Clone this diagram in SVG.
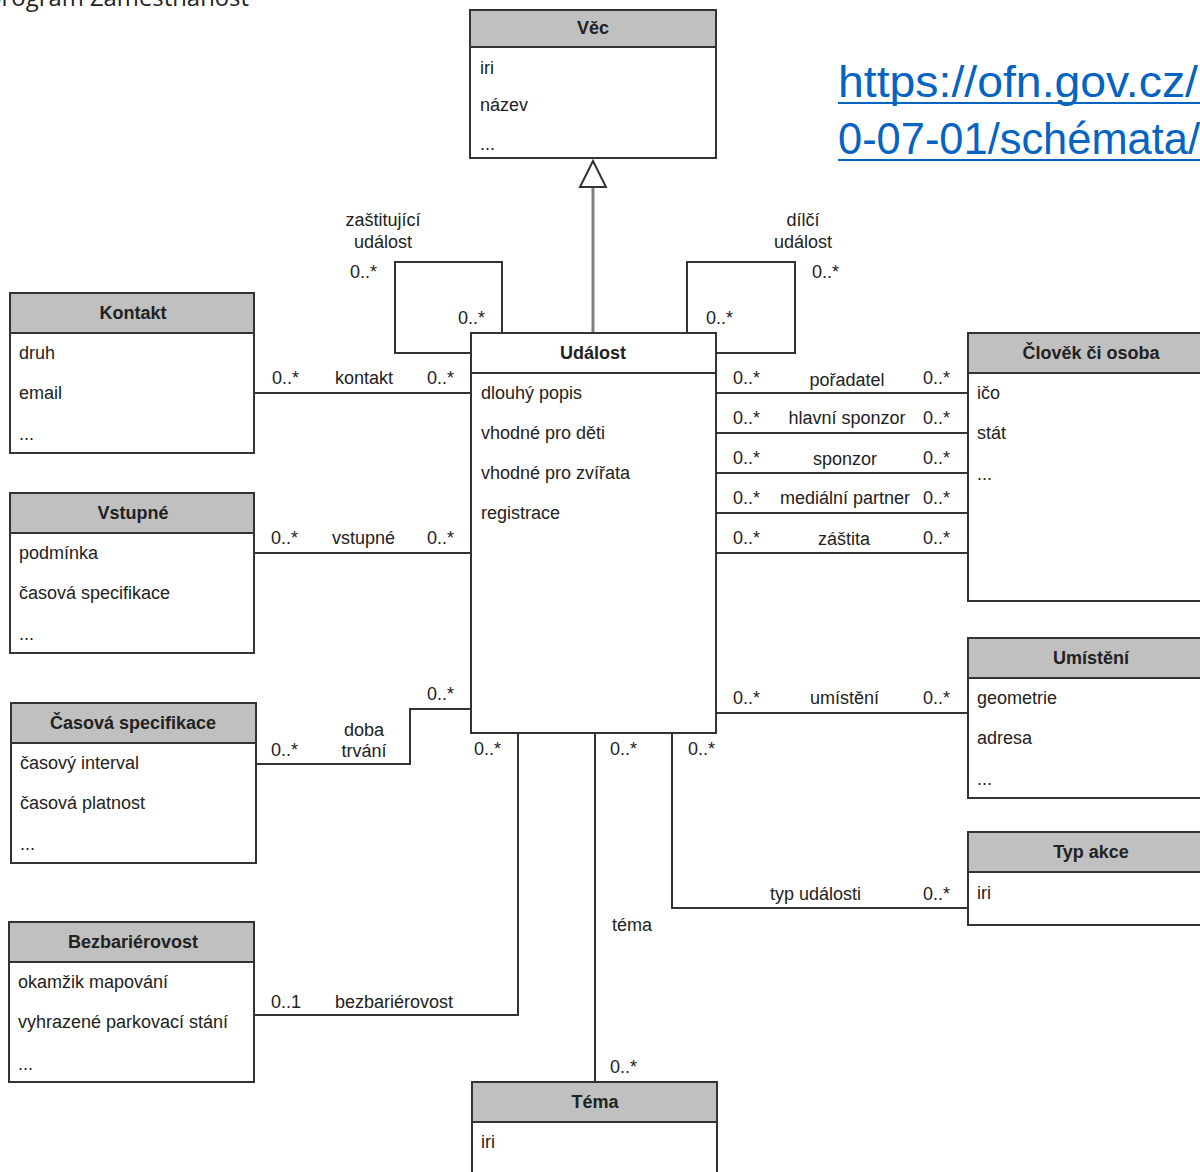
<svg xmlns="http://www.w3.org/2000/svg" width="1200" height="1172" viewBox="0 0 1200 1172">
<style>
.t{font-family:"Liberation Sans",Arial,sans-serif;font-size:18px;fill:#222}
.b{font-weight:bold;text-anchor:middle}
.m{text-anchor:middle}
.box{fill:#fff;stroke:#333;stroke-width:2}
.hdr{fill:#c0c0c0;stroke:#333;stroke-width:2}
.c{fill:none;stroke:#333;stroke-width:2}
.gen{fill:none;stroke:#808080;stroke-width:3}
.link{font-family:"Liberation Sans",Arial,sans-serif;font-size:44px;fill:#0563c1}
</style>
<rect width="1200" height="1172" fill="#fff"/>
<text x="249" y="6" font-family="Open Sans, Liberation Sans, sans-serif" font-size="23" fill="#222" text-anchor="end" textLength="262" lengthAdjust="spacingAndGlyphs">program Zaměstnanost</text>
<g id="link">
<text class="link" x="838" y="97" textLength="360" lengthAdjust="spacingAndGlyphs">https://ofn.gov.cz/</text>
<line x1="838" y1="103" x2="1200" y2="103" stroke="#0563c1" stroke-width="2"/>
<text class="link" x="838" y="154" textLength="362" lengthAdjust="spacingAndGlyphs">0-07-01/schémata/</text>
<line x1="838" y1="160" x2="1200" y2="160" stroke="#0563c1" stroke-width="2"/>
</g>
<g id="connectors">
<path class="gen" d="M593,187 V333"/>
<polygon points="593,161 580,187 606,187" fill="#fff" stroke="#333" stroke-width="2"/>
<path class="c" d="M502,333 V262 H395 V353 H471"/>
<path class="c" d="M687,333 V262 H795 V353 H716"/>
<path class="c" d="M254,393 H471"/>
<path class="c" d="M254,553 H471"/>
<path class="c" d="M256,764 H410 V709 H471"/>
<path class="c" d="M254,1015 H518 V733"/>
<path class="c" d="M595,733 V1082"/>
<path class="c" d="M672,733 V908 H968"/>
<path class="c" d="M716,713 H968"/>
<path class="c" d="M716,393 H968"/>
<path class="c" d="M716,433 H968"/>
<path class="c" d="M716,473 H968"/>
<path class="c" d="M716,513 H968"/>
<path class="c" d="M716,553 H968"/>
</g>
<g id="labels">
<text class="t m" x="383" y="226">zaštitující</text>
<text class="t m" x="383" y="248">událost</text>
<text class="t" x="350" y="278">0..*</text>
<text class="t" x="458" y="324">0..*</text>
<text class="t m" x="803" y="226">dílčí</text>
<text class="t m" x="803" y="248">událost</text>
<text class="t" x="812" y="278">0..*</text>
<text class="t" x="706" y="324">0..*</text>
<text class="t" x="272" y="384">0..*</text>
<text class="t" x="335" y="384">kontakt</text>
<text class="t" x="427" y="384">0..*</text>
<text class="t" x="271" y="544">0..*</text>
<text class="t" x="332" y="544">vstupné</text>
<text class="t" x="427" y="544">0..*</text>
<text class="t" x="271" y="756">0..*</text>
<text class="t m" x="364" y="736">doba</text>
<text class="t m" x="364" y="757">trvání</text>
<text class="t" x="427" y="700">0..*</text>
<text class="t" x="271" y="1008">0..1</text>
<text class="t" x="335" y="1008">bezbariérovost</text>
<text class="t" x="474" y="755">0..*</text>
<text class="t" x="610" y="755">0..*</text>
<text class="t" x="612" y="931">téma</text>
<text class="t" x="610" y="1073">0..*</text>
<text class="t" x="688" y="755">0..*</text>
<text class="t" x="770" y="900">typ události</text>
<text class="t" x="923" y="900">0..*</text>
<text class="t" x="733" y="704">0..*</text>
<text class="t" x="810" y="704">umístění</text>
<text class="t" x="923" y="704">0..*</text>
<text class="t" x="733" y="384">0..*</text>
<text class="t m" x="847" y="386">pořadatel</text>
<text class="t" x="923" y="384">0..*</text>
<text class="t" x="733" y="424">0..*</text>
<text class="t m" x="847" y="424">hlavní sponzor</text>
<text class="t" x="923" y="424">0..*</text>
<text class="t" x="733" y="464">0..*</text>
<text class="t m" x="845" y="465">sponzor</text>
<text class="t" x="923" y="464">0..*</text>
<text class="t" x="733" y="504">0..*</text>
<text class="t m" x="845" y="504">mediální partner</text>
<text class="t" x="923" y="504">0..*</text>
<text class="t" x="733" y="544">0..*</text>
<text class="t m" x="844" y="545">záštita</text>
<text class="t" x="923" y="544">0..*</text>
</g>
<g id="vec">
<rect class="box" x="470" y="10" width="246" height="148"/>
<rect class="hdr" x="470" y="10" width="246" height="37"/>
<text class="t b" x="593" y="34">Věc</text>
<text class="t" x="480" y="74">iri</text>
<text class="t" x="480" y="111">název</text>
<text class="t" x="480" y="150">...</text>
</g>
<g id="udalost">
<rect class="box" x="471" y="333" width="245" height="400"/>
<line x1="471" y1="373" x2="716" y2="373" stroke="#333" stroke-width="2"/>
<text class="t b" x="593" y="359">Událost</text>
<text class="t" x="481" y="399">dlouhý popis</text>
<text class="t" x="481" y="439">vhodné pro děti</text>
<text class="t" x="481" y="479">vhodné pro zvířata</text>
<text class="t" x="481" y="519">registrace</text>
</g>
<g id="kontakt">
<rect class="box" x="10" y="293" width="244" height="160"/>
<rect class="hdr" x="10" y="293" width="244" height="40"/>
<text class="t b" x="133" y="319">Kontakt</text>
<text class="t" x="19" y="359">druh</text>
<text class="t" x="19" y="399">email</text>
<text class="t" x="19" y="440">...</text>
</g>
<g id="vstupne">
<rect class="box" x="10" y="493" width="244" height="160"/>
<rect class="hdr" x="10" y="493" width="244" height="40"/>
<text class="t b" x="133" y="519">Vstupné</text>
<text class="t" x="19" y="559">podmínka</text>
<text class="t" x="19" y="599">časová specifikace</text>
<text class="t" x="19" y="640">...</text>
</g>
<g id="casova-specifikace">
<rect class="box" x="11" y="703" width="245" height="160"/>
<rect class="hdr" x="11" y="703" width="245" height="40"/>
<text class="t b" x="133" y="729">Časová specifikace</text>
<text class="t" x="20" y="769">časový interval</text>
<text class="t" x="20" y="809">časová platnost</text>
<text class="t" x="20" y="850">...</text>
</g>
<g id="bezbarierovost">
<rect class="box" x="9" y="922" width="245" height="160"/>
<rect class="hdr" x="9" y="922" width="245" height="40"/>
<text class="t b" x="133" y="948">Bezbariérovost</text>
<text class="t" x="18" y="988">okamžik mapování</text>
<text class="t" x="18" y="1028">vyhrazené parkovací stání</text>
<text class="t" x="18" y="1070">...</text>
</g>
<g id="tema">
<rect class="box" x="472" y="1082" width="245" height="110"/>
<rect class="hdr" x="472" y="1082" width="245" height="40"/>
<text class="t b" x="595" y="1108">Téma</text>
<text class="t" x="481" y="1148">iri</text>
</g>
<g id="clovek">
<rect class="box" x="968" y="333" width="246" height="268"/>
<rect class="hdr" x="968" y="333" width="246" height="40"/>
<text class="t b" x="1091" y="359">Člověk či osoba</text>
<text class="t" x="977" y="399">ičo</text>
<text class="t" x="977" y="439">stát</text>
<text class="t" x="977" y="480">...</text>
</g>
<g id="umisteni">
<rect class="box" x="968" y="638" width="246" height="160"/>
<rect class="hdr" x="968" y="638" width="246" height="40"/>
<text class="t b" x="1091" y="664">Umístění</text>
<text class="t" x="977" y="704">geometrie</text>
<text class="t" x="977" y="744">adresa</text>
<text class="t" x="977" y="785">...</text>
</g>
<g id="typ-akce">
<rect class="box" x="968" y="832" width="246" height="93"/>
<rect class="hdr" x="968" y="832" width="246" height="40"/>
<text class="t b" x="1091" y="858">Typ akce</text>
<text class="t" x="977" y="899">iri</text>
</g>
</svg>
